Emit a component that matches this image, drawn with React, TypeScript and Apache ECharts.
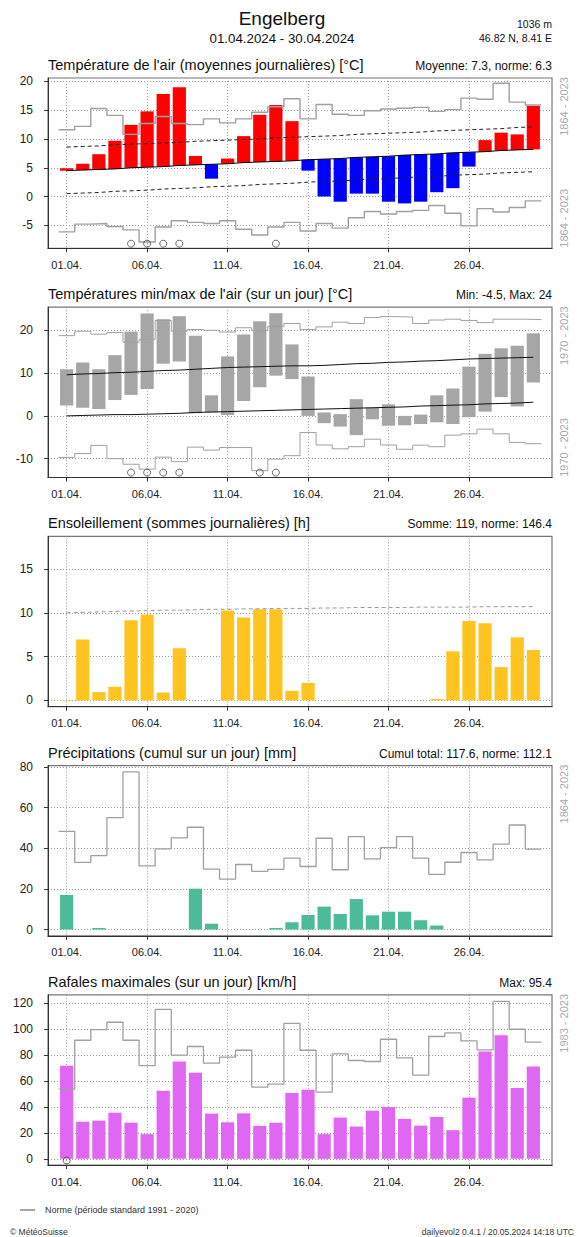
import { useEffect, useRef } from 'react';
import * as echarts from 'echarts';

// ---------- shared axis data ----------
const days = [1, 2, 3, 4, 5, 6, 7, 8, 9, 10, 11, 12, 13, 14, 15, 16, 17, 18, 19, 20, 21, 22, 23, 24, 25, 26, 27, 28, 29, 30];
const xTickDays = [1, 6, 11, 16, 21, 26];
const xTickLabels = ['01.04.', '06.04.', '11.04.', '16.04.', '21.04.', '26.04.'];

// ---------- panel 1: daily mean temperature ----------
const tempMean = [4.9, 5.7, 7.35, 9.7, 12.45, 14.8, 17.8, 19.0, 7.05, 3.1, 6.6, 10.5, 14.2, 15.9, 13.1, 4.5, 0.0, -0.9, 0.5, 0.5, -0.9, -1.2, -0.9, 0.75, 1.45, 5.2, 9.8, 11.1, 10.8, 15.75];
const tempNorm = [4.5, 4.6, 4.7, 4.8, 5.0, 5.1, 5.2, 5.4, 5.5, 5.6, 5.7, 5.9, 6.0, 6.1, 6.2, 6.4, 6.5, 6.6, 6.8, 6.9, 7.0, 7.2, 7.3, 7.4, 7.6, 7.7, 7.8, 8.0, 8.1, 8.2];
const tempNormHigh = [8.6, 8.7, 8.8, 9.0, 9.1, 9.2, 9.3, 9.4, 9.6, 9.7, 9.8, 9.9, 10.0, 10.2, 10.3, 10.4, 10.5, 10.6, 10.8, 10.9, 11.0, 11.1, 11.2, 11.4, 11.5, 11.6, 11.7, 11.8, 12.0, 12.1];
const tempNormLow = [0.5, 0.6, 0.7, 0.9, 1.0, 1.1, 1.3, 1.4, 1.5, 1.7, 1.8, 1.9, 2.1, 2.2, 2.3, 2.5, 2.6, 2.7, 2.9, 3.0, 3.1, 3.3, 3.4, 3.5, 3.7, 3.8, 3.9, 4.1, 4.2, 4.3];
const tempRecordHigh = [11.6, 12.2, 15.3, 14.1, 10.8, 12.7, 13.9, 12.7, 12.5, 13.5, 12.8, 13.5, 14.65, 15.6, 17.0, 13.5, 16.0, 14.3, 14.1, 14.9, 15.2, 15.35, 15.5, 14.8, 15.1, 17.1, 16.9, 19.7, 16.4, 15.9];
const tempRecordLow = [-6.15, -4.8, -4.7, -5.2, -5.8, -7.9, -5.3, -4.2, -4.5, -4.7, -4.2, -5.7, -6.7, -5.3, -4.5, -6.0, -4.7, -5.5, -3.7, -2.6, -3.05, -2.6, -2.4, -1.55, -2.9, -5.1, -2.1, -2.7, -1.9, -0.75];
const tempMarkDays = [5, 6, 7, 8, 14];

// ---------- panel 2: daily min / max temperature ----------
const tMax = [10.9, 12.45, 10.9, 14.2, 19.7, 23.9, 22.6, 23.3, 18.75, 4.8, 13.9, 19.0, 22.1, 24.0, 16.7, 9.2, 0.8, 0.4, 3.9, 1.9, 2.7, 0.0, 0.3, 4.8, 6.4, 11.5, 14.5, 15.8, 16.4, 19.3];
const tMin = [2.4, 1.9, 1.6, 3.7, 4.9, 6.3, 12.2, 12.7, 0.6, 0.8, 0.2, 3.5, 6.7, 9.4, 8.6, 0.0, -1.7, -2.5, -4.5, -0.8, -2.3, -2.2, -1.9, -1.5, -1.9, -0.3, 1.0, 4.4, 2.2, 7.8];
const tMaxNorm = [9.6, 9.8, 9.9, 10.1, 10.2, 10.4, 10.6, 10.7, 10.9, 11.1, 11.3, 11.4, 11.5, 11.6, 11.7, 11.7, 11.8, 12.0, 12.2, 12.3, 12.5, 12.6, 12.8, 12.9, 13.1, 13.3, 13.4, 13.5, 13.6, 13.7];
const tMinNorm = [0.0, 0.1, 0.2, 0.3, 0.3, 0.4, 0.5, 0.6, 0.8, 0.9, 1.0, 1.1, 1.2, 1.3, 1.4, 1.5, 1.6, 1.7, 1.8, 1.9, 2.0, 2.1, 2.3, 2.4, 2.5, 2.6, 2.8, 2.9, 3.0, 3.2];
const tMaxRecord = [18.75, 19.8, 19.1, 19.5, 17.2, 17.9, 22.3, 19.8, 20.2, 20.0, 19.6, 20.6, 19.9, 20.9, 21.6, 20.2, 20.8, 21.9, 21.6, 23.0, 23.2, 23.1, 21.6, 22.4, 22.6, 22.3, 21.8, 22.6, 22.6, 22.5];
const tMinRecord = [-9.7, -8.8, -6.9, -10.0, -11.3, -12.45, -9.65, -10.7, -7.3, -8.0, -7.4, -7.4, -12.8, -10.1, -9.3, -3.9, -6.8, -7.7, -7.2, -5.45, -6.8, -7.8, -6.85, -7.2, -4.5, -4.2, -3.1, -4.2, -6.2, -6.5];
const tMarkDays = [5, 6, 7, 8, 13, 14];

// ---------- panel 3: sunshine ----------
const sunshine = [0.05, 6.95, 0.95, 1.55, 9.15, 9.8, 0.9, 5.95, 0, 0, 10.25, 9.45, 10.4, 10.4, 1.1, 2.0, 0, 0.05, 0, 0, 0, 0, 0, 0.15, 5.6, 9.05, 8.8, 3.8, 7.2, 5.75];
const sunshineNorm = [10.0, 10.05, 10.1, 10.15, 10.2, 10.25, 10.3, 10.3, 10.35, 10.4, 10.4, 10.45, 10.45, 10.5, 10.5, 10.5, 10.55, 10.55, 10.6, 10.6, 10.6, 10.6, 10.65, 10.65, 10.65, 10.65, 10.7, 10.7, 10.7, 10.7];

// ---------- panel 4: precipitation ----------
const precip = [17.0, 0, 0.8, 0, 0, 0, 0, 0, 20.1, 2.9, 0, 0, 0, 0.8, 3.6, 7.2, 11.3, 7.7, 15.0, 7.0, 8.8, 8.8, 4.6, 2.0, 0, 0, 0, 0, 0, 0];
const precipRecord = [48.3, 33.0, 36.4, 55.0, 77.5, 31.3, 39.7, 45.1, 50.3, 29.7, 24.8, 32.0, 28.6, 29.6, 35.1, 31.0, 44.9, 29.4, 45.7, 34.8, 40.3, 45.7, 35.1, 27.1, 33.1, 37.9, 34.3, 42.0, 51.4, 39.5];

// ---------- panel 5: gusts ----------
const gusts = [71.8, 28.7, 29.5, 35.6, 27.9, 19.0, 52.6, 75.1, 66.4, 34.9, 28.2, 35.1, 25.4, 27.9, 50.8, 53.3, 19.0, 31.8, 24.9, 37.2, 40.0, 30.8, 25.6, 32.3, 22.1, 47.2, 82.8, 95.4, 54.6, 71.3];
const gustRecord = [53.8, 91.5, 99.7, 105.4, 91.5, 72.0, 115.4, 80.0, 86.7, 73.8, 78.5, 83.8, 55.4, 57.7, 104.6, 83.8, 51.5, 81.0, 75.9, 75.1, 92.3, 77.9, 64.6, 94.4, 97.2, 91.0, 84.1, 121.5, 100.0, 90.0];
const gustMarkDays = [1];

// ---------- axis ticks & texts ----------
const yTicks = [
  [-5, 0, 5, 10, 15, 20],
  [-10, 0, 10, 20],
  [0, 5, 10, 15],
  [0, 20, 40, 60, 80],
  [0, 20, 40, 60, 80, 100, 120],
];
const panelTitles = [
  "Température de l'air (moyennes journalières) [°C]",
  "Températures min/max de l'air (sur un jour) [°C]",
  'Ensoleillement (sommes journalières) [h]',
  'Précipitations (cumul sur un jour) [mm]',
  'Rafales maximales (sur un jour) [km/h]',
];
const panelStats = [
  'Moyenne: 7.3, norme: 6.3',
  'Min: -4.5, Max: 24',
  'Somme: 119, norme: 146.4',
  'Cumul total: 117.6, norme: 112.1',
  'Max: 95.4',
];
const stationName = 'Engelberg';
const periodText = '01.04.2024 - 30.04.2024';
const altitudeText = '1036 m';
const coordText = '46.82 N, 8.41 E';
const legendText = 'Norme (période standard 1991 - 2020)';
const copyrightText = '© MétéoSuisse';
const versionText = 'dailyevol2 0.4.1 / 20.05.2024 14:18 UTC';

// ---------- layout ----------
const FONT = "'Liberation Sans', Arial, Helvetica, sans-serif";
const LEFT = 48;
const PLOT_W = 504;
const PLOT_H = 170.3;
const TOPS = [78, 307.2, 536.4, 765.6, 994.8];
const X_MIN = -0.16;
const X_MAX = 31.16;
const Y_RANGES = [
  [-9, 20.6],
  [-14.4, 25.4],
  [-0.72, 18.72],
  [-3.1, 80.6],
  [-4.85, 126.6],
];
const MARK_LEVEL = [-8.2, -13.25, 0, 0, -1.3];
const HALF_BAR = 0.41;

const RED = '#ff0000';
const BLUE = '#0000ff';
const GREY_BAR = '#a6a6a6';
const SUN = '#ffc41f';
const RAIN = '#4cbb98';
const GUST = '#e066f4';
const RECORD = '#a0a0a0';

function stepData(values: number[]) {
  const pts = values.map((v, i) => [days[i] - 0.5, v]);
  pts.push([days[days.length - 1] + 0.5, values[values.length - 1]]);
  return pts;
}

function lineData(values: number[]) {
  return values.map((v, i) => [days[i], v]);
}

function rangeBars(k: number, lows: number[], highs: number[], colors: string[]) {
  return {
    type: 'custom',
    xAxisIndex: k,
    yAxisIndex: k,
    data: days.map((d, i) => [d, lows[i], highs[i]]),
    renderItem: (params: any, api: any) => {
      const x = api.value(0);
      const lo = api.value(1);
      const hi = api.value(2);
      const a = api.coord([x - HALF_BAR, hi]);
      const b = api.coord([x + HALF_BAR, lo]);
      return {
        type: 'rect',
        shape: { x: a[0], y: a[1], width: b[0] - a[0], height: Math.max(b[1] - a[1], 0) },
        style: { fill: colors[params.dataIndex] },
      };
    },
    z: 2,
  };
}

function stepSeries(k: number, values: number[], width = 1.3) {
  return {
    type: 'line',
    xAxisIndex: k,
    yAxisIndex: k,
    step: 'end',
    data: stepData(values),
    symbol: 'none',
    lineStyle: { color: RECORD, width },
    z: 3,
  };
}

function normSeries(k: number, values: number[], color: string, dashed: boolean, width = 1) {
  return {
    type: 'line',
    xAxisIndex: k,
    yAxisIndex: k,
    data: lineData(values),
    symbol: 'none',
    lineStyle: { color, width, type: dashed ? [4, 3] : 'solid' },
    z: 4,
  };
}

function markSeries(k: number, markDays: number[]) {
  return {
    type: 'scatter',
    xAxisIndex: k,
    yAxisIndex: k,
    data: markDays.map((d) => [d, MARK_LEVEL[k]]),
    symbol: 'circle',
    symbolSize: 7,
    itemStyle: { color: 'rgba(255,255,255,0)', borderColor: '#444', borderWidth: 1 },
    z: 5,
  };
}

function buildOption() {
  const grids = TOPS.map((t) => ({
    left: LEFT,
    top: t,
    width: PLOT_W,
    height: PLOT_H,
    show: true,
    borderColor: '#777',
    borderWidth: 1.2,
    backgroundColor: 'rgba(0,0,0,0)',
    containLabel: false,
    outerBoundsMode: 'none',
  }));

  const xAxes = TOPS.map((_, k) => ({
    type: 'value',
    gridIndex: k,
    min: X_MIN,
    max: X_MAX,
    axisLine: { show: true, onZero: false, lineStyle: { color: '#333', width: 1 } },
    axisTick: { show: true, customValues: xTickDays, length: 4, lineStyle: { color: '#333' } },
    axisLabel: {
      customValues: xTickDays,
      formatter: (v: number) => xTickLabels[xTickDays.indexOf(Math.round(v))] ?? '',
      fontSize: 11,
      color: '#222',
      margin: 11,
      fontFamily: FONT,
    },
    splitLine: { show: true, lineStyle: { color: '#999', type: [1, 2], width: 1 } },
  }));

  const yAxes = TOPS.map((_, k) => ({
    type: 'value',
    gridIndex: k,
    min: Y_RANGES[k][0],
    max: Y_RANGES[k][1],
    axisLine: { show: true, onZero: false, lineStyle: { color: '#333', width: 1 } },
    axisTick: { show: true, customValues: yTicks[k], length: 4, lineStyle: { color: '#333' } },
    axisLabel: {
      customValues: yTicks[k],
      formatter: (v: number) => String(v),
      fontSize: 12,
      color: '#222',
      margin: 15,
      fontFamily: FONT,
    },
    splitLine: { show: true, lineStyle: { color: '#999', type: [1, 2], width: 1 } },
  }));

  const tempColors = tempMean.map((v, i) => (v >= tempNorm[i] ? RED : BLUE));
  const series: any[] = [
    // panel 1
    rangeBars(
      0,
      tempMean.map((v, i) => Math.min(v, tempNorm[i])),
      tempMean.map((v, i) => Math.max(v, tempNorm[i])),
      tempColors,
    ),
    stepSeries(0, tempRecordHigh, 1.4),
    stepSeries(0, tempRecordLow, 1.4),
    normSeries(0, tempNorm, '#000', false),
    normSeries(0, tempNormHigh, '#222', true),
    normSeries(0, tempNormLow, '#222', true),
    markSeries(0, tempMarkDays),
    // panel 2
    rangeBars(1, tMin, tMax, days.map(() => GREY_BAR)),
    stepSeries(1, tMaxRecord, 1),
    stepSeries(1, tMinRecord, 1),
    normSeries(1, tMaxNorm, '#111', false),
    normSeries(1, tMinNorm, '#111', false),
    markSeries(1, tMarkDays),
    // panel 3
    rangeBars(2, days.map(() => 0), sunshine, days.map(() => SUN)),
    normSeries(2, sunshineNorm, '#999', true),
    // panel 4
    rangeBars(3, days.map(() => 0), precip, days.map(() => RAIN)),
    stepSeries(3, precipRecord, 1.3),
    // panel 5
    rangeBars(4, days.map(() => 0), gusts, days.map(() => GUST)),
    stepSeries(4, gustRecord, 1.3),
    markSeries(4, gustMarkDays),
  ];

  const txt = (x: number, y: number, text: string, size: number, align: string, fill = '#111', extra: any = {}) => ({
    type: 'text',
    x,
    y,
    silent: true,
    ...extra,
    style: { text, fontSize: size, fontFamily: FONT, fill, align, verticalAlign: 'middle', textAlign: align, textVerticalAlign: 'middle' },
  });

  const graphics: any[] = [
    txt(282, 18, stationName, 19, 'center'),
    txt(282, 38, periodText, 13.3, 'center'),
    txt(552, 24, altitudeText, 10.5, 'right'),
    txt(552, 38, coordText, 10.5, 'right'),
  ];
  TOPS.forEach((t, k) => {
    graphics.push(txt(LEFT, t - 13, panelTitles[k], 14.5, 'left'));
    graphics.push(txt(LEFT + PLOT_W, t - 12, panelStats[k], 12, 'right'));
  });
  const sideLabels: [number, string][] = [
    [TOPS[0] + 28.5, '1864 - 2023'],
    [TOPS[0] + PLOT_H - 30, '1864 - 2023'],
    [TOPS[1] + 28.5, '1970 - 2023'],
    [TOPS[1] + PLOT_H - 30, '1970 - 2023'],
    [TOPS[3] + 28.5, '1864 - 2023'],
    [TOPS[4] + 28.5, '1983 - 2023'],
  ];
  sideLabels.forEach(([y, s]) => {
    graphics.push(txt(564, y, s, 11, 'center', '#aaa', { rotation: Math.PI / 2 }));
  });
  graphics.push({
    type: 'line',
    shape: { x1: 20, y1: 1210, x2: 35, y2: 1210 },
    style: { stroke: '#888', lineWidth: 1.5 },
    silent: true,
  });
  graphics.push(txt(45, 1210, legendText, 9, 'left', '#333'));
  graphics.push(txt(10, 1232, copyrightText, 8.5, 'left', '#333'));
  graphics.push(txt(574, 1232, versionText, 8.5, 'right', '#333'));

  return {
    animation: false,
    backgroundColor: '#ffffff',
    textStyle: { fontFamily: FONT },
    grid: grids,
    xAxis: xAxes,
    yAxis: yAxes,
    series,
    graphic: graphics,
  };
}

export default function App() {
  const ref = useRef<HTMLDivElement>(null);
  useEffect(() => {
    document.body.style.margin = '0';
    if (!ref.current) return;
    const chart = echarts.init(ref.current, null, { renderer: 'svg', width: 578, height: 1237 });
    chart.setOption(buildOption() as any);
    return () => {
      chart.dispose();
    };
  }, []);
  return <div ref={ref} style={{ width: 578, height: 1237 }} />;
}
